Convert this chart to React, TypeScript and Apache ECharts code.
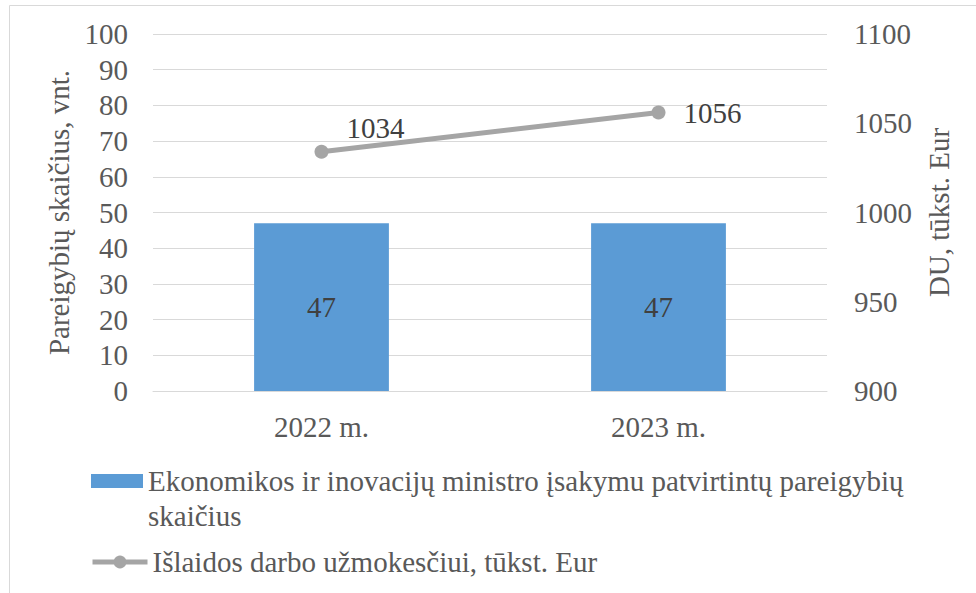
import React, { useEffect, useRef } from "react";
import * as echarts from "echarts";

const categories = ["2022 m.", "2023 m."];
const positions = [47, 47];
const salaries = [1034, 1056];
const barName = "Ekonomikos ir inovacijų ministro įsakymu patvirtintų pareigybių skaičius";
const lineName = "Išlaidos darbo užmokesčiui, tūkst. Eur";
const leftAxisName = "Pareigybių skaičius, vnt.";
const rightAxisName = "DU, tūkst. Eur";

const FONT = "Liberation Serif";
const FS = 29;
const TXT = "#595959";

export default function App() {
  const ref = useRef<HTMLDivElement>(null);
  useEffect(() => {
    if (!ref.current) return;
    const chart = echarts.init(ref.current, undefined, { renderer: "svg" });
    chart.setOption({
      animation: false,
      textStyle: { fontFamily: FONT, color: TXT, fontSize: FS },
      graphic: [
        {
          type: "rect",
          shape: { x: 9.5, y: 5.5, width: 1200, height: 800 },
          style: { fill: "none", stroke: "#d9d9d9", lineWidth: 1 },
          silent: true,
        },
      ],
      grid: { left: 153, right: 149, top: 34, bottom: 202, containLabel: false },
      legend: [
        {
          data: [barName],
          left: 91,
          top: 428.5,
          padding: 0,
          orient: "vertical",
          itemWidth: 52,
          itemHeight: 14,
          itemGap: 0,
          icon: "rect",
          formatter: (n: string) => "\n" + n.replace(/ skaičius$/, "\nskaičius"),
          textStyle: {
            fontFamily: FONT,
            fontSize: FS,
            color: TXT,
            lineHeight: 35,
          },
        },
        {
          data: [lineName],
          left: 90,
          top: 547.5,
          padding: 0,
          itemWidth: 55,
          itemHeight: 16,
          itemGap: 0,
          lineStyle: { width: 5, color: "#a5a5a5" },
          textStyle: { fontFamily: FONT, fontSize: FS, color: TXT },
        },
      ],
      xAxis: {
        type: "category",
        data: categories,
        axisTick: { show: false },
        axisLine: { lineStyle: { color: "#d9d9d9", width: 1 } },
        axisLabel: { fontFamily: FONT, fontSize: FS, color: TXT, margin: 21 },
      },
      yAxis: [
        {
          type: "value",
          min: 0,
          max: 100,
          interval: 10,
          name: leftAxisName,
          nameLocation: "middle",
          nameRotate: 90,
          nameGap: 75,
          nameTextStyle: { fontFamily: FONT, fontSize: FS, color: TXT },
          axisLabel: { fontFamily: FONT, fontSize: FS, color: TXT, margin: 25 },
          splitLine: { lineStyle: { color: "#d9d9d9", width: 1 } },
          axisLine: { show: false },
          axisTick: { show: false },
        },
        {
          type: "value",
          min: 900,
          max: 1100,
          interval: 50,
          position: "right",
          name: rightAxisName,
          nameLocation: "middle",
          nameRotate: 90,
          nameGap: 97,
          nameTextStyle: { fontFamily: FONT, fontSize: FS, color: TXT },
          axisLabel: {
            fontFamily: FONT,
            fontSize: FS,
            color: TXT,
            margin: 27,
            formatter: (v: number) => String(v),
          },
          splitLine: { show: false },
          axisLine: { show: false },
          axisTick: { show: false },
        },
      ],
      series: [
        {
          name: barName,
          type: "bar",
          data: positions,
          barWidth: "40%",
          itemStyle: { color: "#5b9bd5" },
          label: {
            show: true,
            position: "inside",
            fontFamily: FONT,
            fontSize: FS,
            color: "#404040",
          },
        },
        {
          name: lineName,
          type: "line",
          yAxisIndex: 1,
          data: salaries.map((v, i) =>
            i === 0
              ? { value: v, label: { offset: [0, -24] } }
              : { value: v }
          ),
          symbol: "circle",
          symbolSize: 14,
          lineStyle: { color: "#a5a5a5", width: 5 },
          itemStyle: { color: "#a5a5a5" },
          label: {
            show: true,
            position: "right",
            distance: 18,
            fontFamily: FONT,
            fontSize: FS,
            color: "#404040",
            formatter: (p: any) => String(p.value),
          },
        },
      ],
    });
    return () => chart.dispose();
  }, []);
  return (
    <div style={{ position: "fixed", left: 0, top: 0, width: 976, height: 593, overflow: "hidden", background: "#fff" }}>
      <div ref={ref} style={{ width: 976, height: 593 }} />
    </div>
  );
}
